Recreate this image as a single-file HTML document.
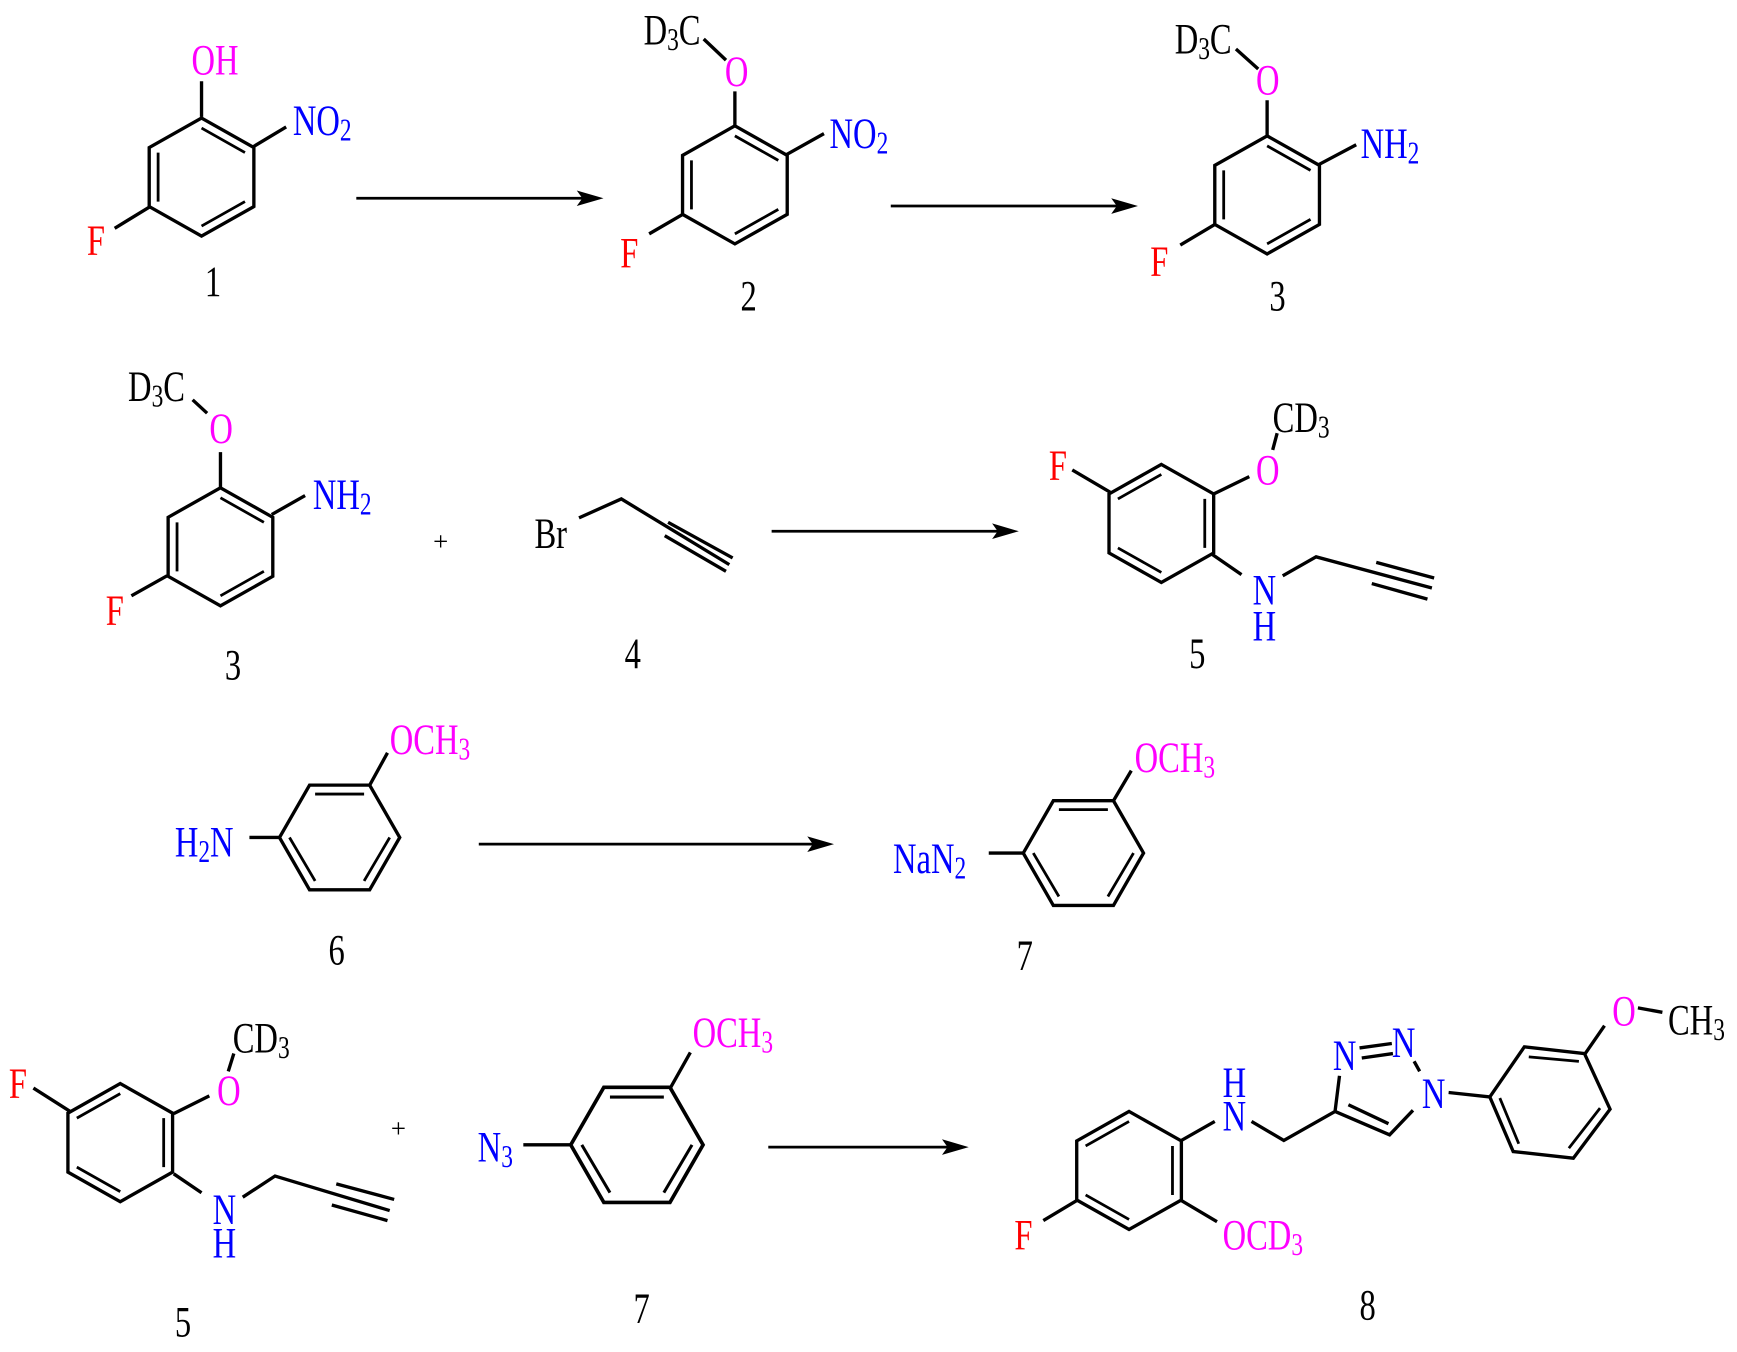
<!DOCTYPE html>
<html><head><meta charset="utf-8"><style>
html,body{margin:0;padding:0;background:#fff;}
svg{display:block}
text{font-family:"Liberation Serif",serif;font-size:39px;}
.k{fill:#000}.b{fill:#0000ff}.r{fill:#ff0000}.m{fill:#ff00ff}
.s{font-size:28px}
</style></head><body>
<svg width="1737" height="1352" viewBox="0 0 1560 1214" preserveAspectRatio="none" xmlns="http://www.w3.org/2000/svg">
<defs>
<g id="ra"><polygon points="0,-53 47,-26.5 47,26.5 0,53 -47,26.5 -47,-26.5" fill="none" stroke="#000" stroke-width="3"/>
<path d="M-39,-22L-39,22M0,-44L39,-22M39,22L0,44" stroke="#000" stroke-width="2.5"/></g>
<g id="rb"><polygon points="0,-53 47,-26.5 47,26.5 0,53 -47,26.5 -47,-26.5" fill="none" stroke="#000" stroke-width="3"/>
<path d="M-39,-22L0,-44M39,-22L39,22M-39,22L0,44" stroke="#000" stroke-width="2.5"/></g>
<g id="rf"><polygon points="-27,-47 27,-47 54,0 27,47 -27,47 -54,0" fill="none" stroke="#000" stroke-width="3"/>
<path d="M-22,-39L22,-39M45,0L22,39M-45,0L-22,39" stroke="#000" stroke-width="2.5"/></g>
</defs>
<g stroke="#000" stroke-width="3" fill="none">
<!-- row1 -->
<use href="#ra" x="181" y="159"/>
<path d="M181,105L181,73M227,132L257,114M134,186L103,205"/>
<use href="#ra" x="660" y="166"/>
<path d="M660,113L660,82M632,35L652,54M706,139L740,120M614,192L583,210"/>
<use href="#ra" x="1138" y="175"/>
<path d="M1138,122L1138,90M1110,44L1130,62M1184,148L1218,130M1092,201L1060,220"/>
<!-- row2 -->
<use href="#ra" x="198" y="491"/>
<path d="M198,438L198,406M173,359L186,371M244,462L274,445M150,517L118,535"/>
<path d="M520,465L558,448L655,507M600,469L658,501M597,481L652,513"/>
<use href="#rb" x="1043" y="470"/>
<path d="M997,442L963,422M1089,444L1122,428M1143,404L1147,389M1089,498L1115,516M1152,517L1182,500L1286,528M1236,505L1288,519M1232,524L1282,538"/>
<!-- row3 -->
<use href="#rf" x="305" y="752"/>
<path d="M224,752L251,752M332,705L348,676"/>
<use href="#rf" x="973" y="766"/>
<path d="M888,766L919,766M1000,719L1016,692"/>
<!-- row4 -->
<use href="#rb" x="108" y="1026"/>
<path d="M63,998L30,977M156,1000L188,984M205,962L210,946M156,1054L181,1071M218,1075L247,1056L350,1087M302,1063L354,1077M298,1082L348,1096"/>
<g transform="translate(572,1028) scale(1.1)"><use href="#rf" x="0" y="0"/></g>
<path d="M470,1028L512,1028M602,977L620,945"/>
<use href="#rb" x="1014" y="1051"/>
<path d="M967,1078L937,1096M1061,1078L1093,1097M1061,1024L1091,1007M1124,1007L1153,1024L1199,998L1203,966M1221,941L1250,937M1223,950L1251,946M1270,953L1275,962M1269,997L1248,1019L1199,998M1211,992L1247,1009M1301,981L1338,985"/>
<g transform="translate(1391,990)">
<polygon points="-53,-5 -22,-50 32,-44 55,6 22,50 -32,44" fill="none"/>
<path d="M-18,-41L27,-37M46,5L18,41M-27,37L-44,-4" stroke-width="2.5"/>
</g>
<path d="M1423,947L1441,921M1471,905L1493,909"/>
<!-- arrows -->
<path d="M320,178L525,178M800,185L1005,185M693,477L898,477M430,758L732,758M690,1030L853,1030" stroke-width="2.5"/>
</g>
<g fill="#000">
<polygon points="542,178 518,171 523,178 518,185"/>
<polygon points="1022,185 998,178 1003,185 998,192"/>
<polygon points="915,477 891,470 896,477 891,484"/>
<polygon points="749,758 725,751 730,758 725,765"/>
<polygon points="870,1030 846,1023 851,1030 846,1037"/>
</g>
<!-- labels -->
<text transform="translate(172,67) scale(.75,1)" class="m">OH</text>
<text transform="translate(263,121) scale(.75,1)" class="b">NO<tspan class="s" dy="5">2</tspan></text>
<text transform="translate(78,229) scale(.75,1)" class="r">F</text>
<text transform="translate(184,266) scale(.75,1)" class="k">1</text>

<text transform="translate(578,40) scale(.75,1)" class="k">D<tspan class="s" dy="5">3</tspan><tspan dy="-5">C</tspan></text>
<text transform="translate(651,77) scale(.75,1)" class="m">O</text>
<text transform="translate(745,133) scale(.75,1)" class="b">NO<tspan class="s" dy="5">2</tspan></text>
<text transform="translate(557,240) scale(.75,1)" class="r">F</text>
<text transform="translate(665,279) scale(.75,1)" class="k">2</text>

<text transform="translate(1055,48) scale(.75,1)" class="k">D<tspan class="s" dy="5">3</tspan><tspan dy="-5">C</tspan></text>
<text transform="translate(1128,85) scale(.75,1)" class="m">O</text>
<text transform="translate(1222,142) scale(.75,1)" class="b">NH<tspan class="s" dy="5">2</tspan></text>
<text transform="translate(1033,248) scale(.75,1)" class="r">F</text>
<text transform="translate(1140,279) scale(.75,1)" class="k">3</text>

<text transform="translate(115,360) scale(.75,1)" class="k">D<tspan class="s" dy="5">3</tspan><tspan dy="-5">C</tspan></text>
<text transform="translate(188,398) scale(.75,1)" class="m">O</text>
<text transform="translate(281,457) scale(.75,1)" class="b">NH<tspan class="s" dy="5">2</tspan></text>
<text transform="translate(95,561) scale(.75,1)" class="r">F</text>
<text transform="translate(202,610) scale(.75,1)" class="k">3</text>
<text x="389" y="494" class="k" style="font-size:24px">+</text>
<text transform="translate(480,492) scale(.75,1)" class="k">Br</text>
<text transform="translate(561,600) scale(.75,1)" class="k">4</text>
<text transform="translate(942,431) scale(.75,1)" class="r">F</text>
<text transform="translate(1128,435) scale(.75,1)" class="m">O</text>
<text transform="translate(1143,388) scale(.75,1)" class="k">CD<tspan class="s" dy="5">3</tspan></text>
<text transform="translate(1125,543) scale(.75,1)" class="b">N</text>
<text transform="translate(1125,575) scale(.75,1)" class="b">H</text>
<text transform="translate(1068,600) scale(.75,1)" class="k">5</text>

<text transform="translate(350,677) scale(.75,1)" class="m">OCH<tspan class="s" dy="5">3</tspan></text>
<text transform="translate(157,769) scale(.75,1)" class="b">H<tspan class="s" dy="5">2</tspan><tspan dy="-5">N</tspan></text>
<text transform="translate(295,866) scale(.75,1)" class="k">6</text>
<text transform="translate(1019,693) scale(.75,1)" class="m">OCH<tspan class="s" dy="5">3</tspan></text>
<text transform="translate(802,784) scale(.75,1)" class="b">NaN<tspan class="s" dy="5">2</tspan></text>
<text transform="translate(913,871) scale(.75,1)" class="k">7</text>

<text transform="translate(8,986) scale(.75,1)" class="r">F</text>
<text transform="translate(195,992) scale(.75,1)" class="m">O</text>
<text transform="translate(209,945) scale(.75,1)" class="k">CD<tspan class="s" dy="5">3</tspan></text>
<text transform="translate(191,1099) scale(.75,1)" class="b">N</text>
<text transform="translate(191,1129) scale(.75,1)" class="b">H</text>
<text transform="translate(157,1200) scale(.75,1)" class="k">5</text>
<text x="351" y="1021" class="k" style="font-size:24px">+</text>
<text transform="translate(429,1043) scale(.75,1)" class="b">N<tspan class="s" dy="5">3</tspan></text>
<text transform="translate(622,940) scale(.75,1)" class="m">OCH<tspan class="s" dy="5">3</tspan></text>
<text transform="translate(569,1188) scale(.75,1)" class="k">7</text>

<text transform="translate(1098,985) scale(.75,1)" class="b">H</text>
<text transform="translate(1098,1015) scale(.75,1)" class="b">N</text>
<text transform="translate(911,1122) scale(.75,1)" class="r">F</text>
<text transform="translate(1098,1122) scale(.75,1)" class="m">OCD<tspan class="s" dy="5">3</tspan></text>
<text transform="translate(1197,961) scale(.75,1)" class="b">N</text>
<text transform="translate(1250,949) scale(.75,1)" class="b">N</text>
<text transform="translate(1277,995) scale(.75,1)" class="b">N</text>
<text transform="translate(1448,921) scale(.75,1)" class="m">O</text>
<text transform="translate(1498,929) scale(.75,1)" class="k">CH<tspan class="s" dy="5">3</tspan></text>
<text transform="translate(1221,1185) scale(.75,1)" class="k">8</text>
</svg>
</body></html>
